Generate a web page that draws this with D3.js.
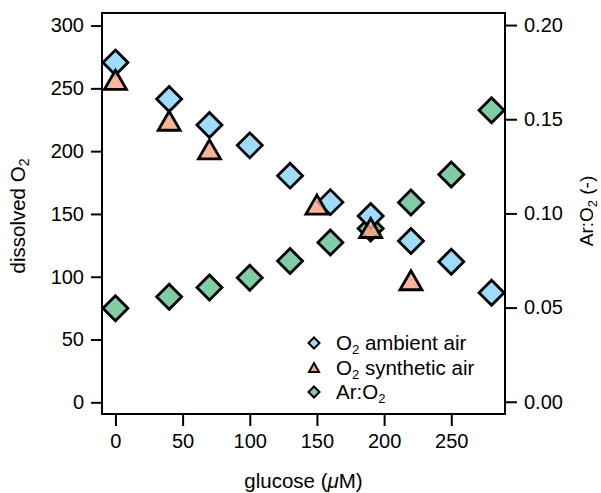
<!DOCTYPE html>
<html>
<head>
<meta charset="utf-8">
<script src="https://cdn.jsdelivr.net/npm/d3@7"></script>
<style>
  html, body { margin: 0; padding: 0; background: #fff; }
  svg { display: block; font-family: "Liberation Sans", Arial, Helvetica, sans-serif; }
</style>
</head>
<body>
<svg id="chart" width="601" height="493"></svg>
<script>
// ---- data ----
const glucoseAmbient = [0, 40, 70, 100, 130, 160, 190, 220, 250, 280];
const o2Ambient      = [270.5, 241.5, 220.9, 204.6, 180.5, 159.4, 148.4, 128.5, 112.0, 87.3];
const glucoseSynth   = [0, 40, 70, 150, 190, 220];
const o2Synthetic    = [256.8, 224.2, 201.4, 157.4, 138.8, 97.2];
const glucoseAr      = [0, 40, 70, 100, 130, 160, 190, 220, 250, 280];
const arO2Ratio      = [0.0496, 0.0557, 0.0607, 0.0658, 0.0747, 0.0846, 0.0920, 0.1058, 0.1207, 0.1548];
const xTicks         = [0, 50, 100, 150, 200, 250];
const yLeftTicks     = [0, 50, 100, 150, 200, 250, 300];
const yRightTicks    = [0, 0.05, 0.10, 0.15, 0.20];

const colAmbient = "#9fdcfa";
const colSynth   = "#f8a882";
const colAr      = "#80cca4";

const svg = d3.select("#chart");
const L = 102, R = 505, T = 13, B = 414;

const x  = d3.scaleLinear().domain([-10, 290]).range([L, R]);
const yL = d3.scaleLinear().domain([-9.3, 310]).range([B, T]);
const yR = d3.scaleLinear().domain([-0.0065, 0.2064]).range([B, T]);

const fs = 20;

function styleAxis(g) {
  g.select(".domain").remove();
  g.selectAll(".tick line").attr("stroke", "#000").attr("stroke-width", 2);
  g.selectAll(".tick text").attr("fill", "#000").style("font-size", fs + "px")
    .style("font-family", "'Liberation Sans', Arial, Helvetica, sans-serif");
}

svg.append("g").attr("transform", `translate(0,${B})`)
  .call(d3.axisBottom(x).tickValues(xTicks).tickSize(12).tickPadding(8).tickFormat(d3.format("d")))
  .call(styleAxis);
svg.append("g").attr("transform", `translate(${L},0)`)
  .call(d3.axisLeft(yL).tickValues(yLeftTicks).tickSize(11).tickPadding(7).tickFormat(d3.format("d")))
  .call(styleAxis);
svg.append("g").attr("transform", `translate(${R},0)`)
  .call(d3.axisRight(yR).tickValues(yRightTicks).tickSize(12).tickPadding(7).tickFormat(d3.format(".2f")))
  .call(styleAxis);

// frame
svg.append("rect").attr("x", L).attr("y", T).attr("width", R - L).attr("height", B - T)
  .attr("fill", "none").attr("stroke", "#000").attr("stroke-width", 2);

// marker shapes
const diamond = r => `M0,${-r}L${r},0L0,${r}L${-r},0Z`;
const triangle = (w, h) => `M0,${-h}L${w},${h}L${-w},${h}Z`;

// Ar:O2 (right axis)
svg.append("g").selectAll("path").data(glucoseAr.map((g, i) => [g, arO2Ratio[i]])).join("path")
  .attr("d", diamond(12.5))
  .attr("transform", d => `translate(${x(d[0])},${yR(d[1])})`)
  .attr("fill", colAr).attr("stroke", "#000").attr("stroke-width", 2.8);

// O2 ambient air
svg.append("g").selectAll("path").data(glucoseAmbient.map((g, i) => [g, o2Ambient[i]])).join("path")
  .attr("d", diamond(12.5))
  .attr("transform", d => `translate(${x(d[0])},${yL(d[1])})`)
  .attr("fill", colAmbient).attr("stroke", "#000").attr("stroke-width", 2.8);

// O2 synthetic air
svg.append("g").selectAll("path").data(glucoseSynth.map((g, i) => [g, o2Synthetic[i]])).join("path")
  .attr("d", triangle(11, 9.5))
  .attr("transform", d => `translate(${x(d[0])},${yL(d[1])})`)
  .attr("fill", colSynth).attr("fill-opacity", 0.85)
  .attr("stroke", "#000").attr("stroke-width", 2.8);

// helper for sub-scripted text
function addSubText(sel, parts, subSize) {
  parts.forEach(p => {
    const ts = sel.append("tspan");
    if (p.sub) ts.attr("dy", 4).style("font-size", subSize + "px");
    else if (p.back) ts.attr("dy", -4);
    if (p.it) ts.style("font-style", "italic");
    ts.text(p.t);
  });
}

const xt = svg.append("text").attr("x", (L + R) / 2).attr("y", 488).attr("text-anchor", "middle")
  .style("font-size", "20.5px");
addSubText(xt, [{t: "glucose ("}, {t: "μ", it: true}, {t: "M)"}], 14);

const lt = svg.append("text").attr("transform", `translate(25,216) rotate(-90)`)
  .attr("text-anchor", "middle").style("font-size", "20.5px");
addSubText(lt, [{t: "dissolved O"}, {t: "2", sub: true}], 14);

const rt = svg.append("text").attr("transform", `translate(593,211) rotate(-90)`)
  .attr("text-anchor", "middle").style("font-size", "19px");
addSubText(rt, [{t: "Ar:O"}, {t: "2", sub: true}, {t: " (-)", back: true}], 13);

// legend
const legendItems = [
  {shape: "diamond", color: colAmbient, parts: [{t: "O"}, {t: "2", sub: true}, {t: " ambient air", back: true}]},
  {shape: "triangle", color: colSynth, parts: [{t: "O"}, {t: "2", sub: true}, {t: " synthetic air", back: true}]},
  {shape: "diamond", color: colAr, parts: [{t: "Ar:O"}, {t: "2", sub: true}]}
];
const lg = svg.append("g");
legendItems.forEach((it, i) => {
  const cy = 343 + i * 24.5;
  lg.append("path")
    .attr("d", it.shape === "diamond" ? diamond(5.5) : triangle(5, 4.5))
    .attr("transform", `translate(314,${cy})`)
    .attr("fill", it.color).attr("stroke", "#000").attr("stroke-width", 2);
  const t = lg.append("text").attr("x", 336).attr("y", cy + 7).style("font-size", "20.5px");
  addSubText(t, it.parts, 13);
});
</script>
</body>
</html>
